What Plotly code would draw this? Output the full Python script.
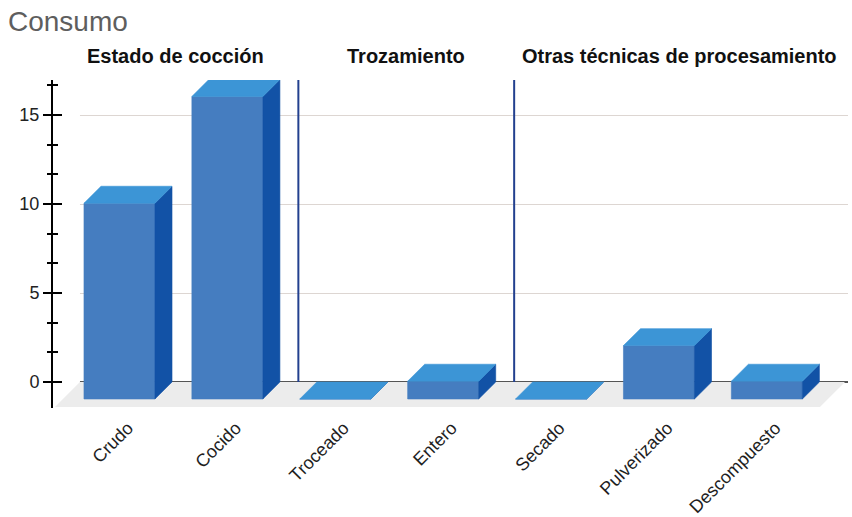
import plotly.graph_objects as go

# ---------------- data ----------------
categories = ["Crudo", "Cocido", "Troceado", "Entero", "Secado", "Pulverizado", "Descompuesto"]
values = [11, 17, 0, 1, 0, 3, 1]
groups = ["Estado de cocción", "Trozamiento", "Otras técnicas de procesamiento"]
group_sizes = [2, 2, 3]
y_tick_vals = [0, 5, 10, 15]

# ---------------- geometry / style ----------------
X_RANGE = [-0.616, 6.752]
Y_RANGE = [-1.46, 16.97]
BAR_W = 0.658          # bar width in category units
DX, DY = 0.158, 0.955  # bar depth offset (x: category units, y: value units)
FLOOR_X0, FLOOR_X1 = -0.366, 6.724
FDX, FDY = 0.232, 1.404

C_FRONT = "#457DC0"
C_TOP = "#3C95D6"
C_SIDE = "#1252A6"
C_FLOOR = "#ECECEC"
C_GRID = "#DDD6D2"
C_DIV = "#23408F"
FONT = "Liberation Sans, Arial, sans-serif"

W, H = 852, 517

xs = list(range(len(categories)))

fx, fy, sx, sy, tx, ty = [], [], [], [], [], []
for x, v in zip(xs, values):
    x0, x1 = x - BAR_W / 2, x + BAR_W / 2
    yb, yt = -DY, v - DY
    fx += [x0, x1, x1, x0, x0, None]
    fy += [yb, yb, yt, yt, yb, None]
    sx += [x1, x1 + DX, x1 + DX, x1, x1, None]
    sy += [yb, yb + DY, yt + DY, yt, yb, None]
    tx += [x0, x1, x1 + DX, x0 + DX, x0, None]
    ty += [yt, yt, yt + DY, yt + DY, yt, None]

fig = go.Figure()

# floor
fig.add_trace(go.Scatter(
    x=[FLOOR_X0, FLOOR_X1, FLOOR_X1 - FDX, FLOOR_X0 - FDX, FLOOR_X0],
    y=[0, 0, -FDY, -FDY, 0],
    fill="toself", fillcolor=C_FLOOR, mode="lines",
    line=dict(width=0, color=C_FLOOR), hoverinfo="skip", showlegend=False))

for px_, py_, col in [(fx, fy, C_FRONT), (sx, sy, C_SIDE), (tx, ty, C_TOP)]:
    fig.add_trace(go.Scatter(
        x=px_, y=py_, fill="toself", fillcolor=col, mode="lines",
        line=dict(width=0.6, color=col), hoverinfo="skip", showlegend=False))

# invisible trace for the overlay axis (inner ticks)
fig.add_trace(go.Scatter(x=[X_RANGE[0]], y=[0], yaxis="y2", mode="markers",
                         marker=dict(opacity=0), hoverinfo="skip", showlegend=False))

# group dividers & titles
shapes = []
annotations = []
bounds = [X_RANGE[0]]
acc = 0
for size in group_sizes[:-1]:
    acc += size
    bx = acc - 0.5 + DX
    bounds.append(bx)
    shapes.append(dict(type="line", xref="x", yref="y", x0=bx, x1=bx, y0=0, y1=Y_RANGE[1],
                       line=dict(color=C_DIV, width=2), layer="above"))
bounds.append(FLOOR_X1)
for i, g in enumerate(groups):
    annotations.append(dict(
        text=g, xref="x", yref="paper", x=(bounds[i] + bounds[i + 1]) / 2, y=1.073,
        xanchor="center", yanchor="middle", showarrow=False,
        font=dict(family=FONT, size=20, color="#111111", weight="bold")))

# mask grid lines left of the floor's back edge
shapes.append(dict(type="rect", xref="x", yref="y", x0=X_RANGE[0], x1=FLOOR_X0,
                   y0=-0.12, y1=Y_RANGE[1], fillcolor="white", line=dict(width=0),
                   layer="between"))

fig.update_layout(
    width=W, height=H,
    margin=dict(l=53, r=4, t=80, b=109, autoexpand=False),
    paper_bgcolor="white", plot_bgcolor="white",
    title=dict(text="Consumo", x=8 / W, y=1 - 21 / H, xanchor="left", yanchor="middle",
               pad=dict(l=0, t=0, r=0, b=0),
               font=dict(family=FONT, size=28, color="#5E5E5E")),
    xaxis=dict(range=X_RANGE, tickmode="array", tickvals=[x + DX / 2 for x in xs],
               ticktext=categories, tickangle=-45, showgrid=False, zeroline=False,
               showline=False, ticks="", ticklabelstandoff=5,
               tickfont=dict(family=FONT, size=18, color="#1E1E1E"),
               fixedrange=True),
    yaxis=dict(range=Y_RANGE, tickmode="linear", tick0=0, dtick=5,
               showgrid=True, gridcolor=C_GRID, gridwidth=1,
               zeroline=True, zerolinecolor="#555555", zerolinewidth=2,
               showline=True, linecolor="black", linewidth=2,
               ticks="outside", ticklen=8, tickwidth=2, tickcolor="black",
               minor=dict(dtick=5 / 3, tick0=0, ticks="outside", ticklen=4, tickwidth=2,
                          tickcolor="black", showgrid=False),
               tickfont=dict(family=FONT, size=18, color="#222222"), fixedrange=True),
    yaxis2=dict(range=Y_RANGE, overlaying="y", side="left", tickmode="linear", tick0=0, dtick=5,
                showgrid=False, zeroline=False, showline=False, showticklabels=False,
                ticks="inside", ticklen=9, tickwidth=2, tickcolor="black",
                minor=dict(dtick=5 / 3, tick0=0, ticks="inside", ticklen=5, tickwidth=2,
                           tickcolor="black", showgrid=False), fixedrange=True),
    shapes=shapes, annotations=annotations, showlegend=False,
)

# remove the default 8px page margin so the figure fills the window exactly
fig.write_html("out.html",
               config={"displayModeBar": False, "staticPlot": True},
               post_script="document.body.style.margin='0';"
                           "document.body.style.overflow='hidden';")
